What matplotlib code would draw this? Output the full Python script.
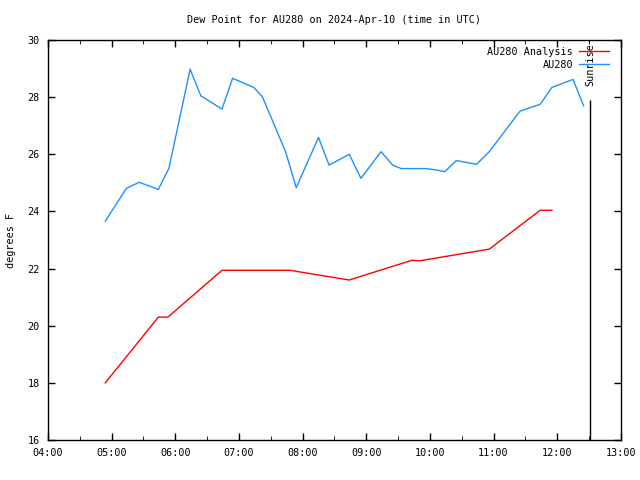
#!/usr/bin/env python3
"""
Dew point time series for AU280 (gnuplot-like look)
"""

import matplotlib
matplotlib.use('Agg')
import matplotlib.pyplot as plt

# observed AU280 dew point (deg F)
obs_times = ['04:54', '05:14', '05:26', '05:44', '05:54', '06:14', '06:24',
             '06:44', '06:54', '07:14', '07:22', '07:44', '07:54', '08:15',
             '08:25', '08:35', '08:44', '08:55', '09:14', '09:25', '09:33',
             '09:56', '10:06', '10:14', '10:25', '10:44', '10:56', '11:25',
             '11:44', '11:55', '12:15', '12:25']
obs_vals = [23.66, 24.81, 25.02, 24.77, 25.51, 28.98, 28.05,
            27.58, 28.66, 28.34, 28.02, 26.09, 24.83, 26.59,
            25.62, 25.82, 26.00, 25.16, 26.09, 25.62, 25.50,
            25.50, 25.45, 25.39, 25.78, 25.65, 26.09, 27.51,
            27.75, 28.34, 28.62, 27.69]

# analysis dew point (deg F)
ana_times = ['04:54', '05:44', '05:53', '06:44', '07:48', '08:44',
             '09:43', '09:50', '10:56', '11:44', '11:55']
ana_vals = [18.0, 20.3, 20.3, 21.94, 21.94, 21.6,
            22.29, 22.27, 22.68, 24.04, 24.04]

sunrise = '12:31'
xtick_labels = ['04:00', '05:00', '06:00', '07:00', '08:00', '09:00',
                '10:00', '11:00', '12:00', '13:00']


def to_hours(t):
    h, m = t.split(':')
    return int(h) + int(m) / 60.0


plt.rcParams['font.family'] = 'DejaVu Sans Mono'
plt.rcParams['font.size'] = 7.3

fig = plt.figure(figsize=(6.4, 4.8), dpi=100)
ax = fig.add_axes([0.075, 0.0833, 0.895, 0.8334])

ax.plot([to_hours(t) for t in ana_times], ana_vals, color='#ff0000',
        lw=1, label='AU280 Analysis')
ax.plot([to_hours(t) for t in obs_times], obs_vals, color='#1e90ff',
        lw=1, label='AU280')

sr = to_hours(sunrise)
ax.vlines(sr, 16, 27.9, color='black', lw=1)
ax.text(sr, 29.9, 'Sunrise', rotation=90, ha='center', va='top')

ax.set_xlim(4, 13)
ax.set_ylim(16, 30)
xt = [to_hours(t) for t in xtick_labels]
ax.set_xticks(xt)
ax.set_xticklabels(xtick_labels)
ax.set_xticks([x + 0.5 for x in xt[:-1]], minor=True)
ax.set_yticks(range(16, 31, 2))
ax.tick_params(direction='in', top=True, right=True, length=5, width=1,
               pad=6)
ax.tick_params(which='minor', direction='in', top=True, length=3)
for s in ax.spines.values():
    s.set_linewidth(1)

ax.set_title('Dew Point for AU280 on 2024-Apr-10 (time in UTC)', fontsize=7.3,
             pad=12)
ax.set_ylabel('degrees F', labelpad=8)

ax.legend(loc='upper right', bbox_to_anchor=(0.986, 0.993), frameon=False,
          markerfirst=False, handlelength=2.9, handletextpad=0.6,
          labelspacing=0.3, borderaxespad=0.2, borderpad=0.2)

fig.savefig('out.png', dpi=100)
